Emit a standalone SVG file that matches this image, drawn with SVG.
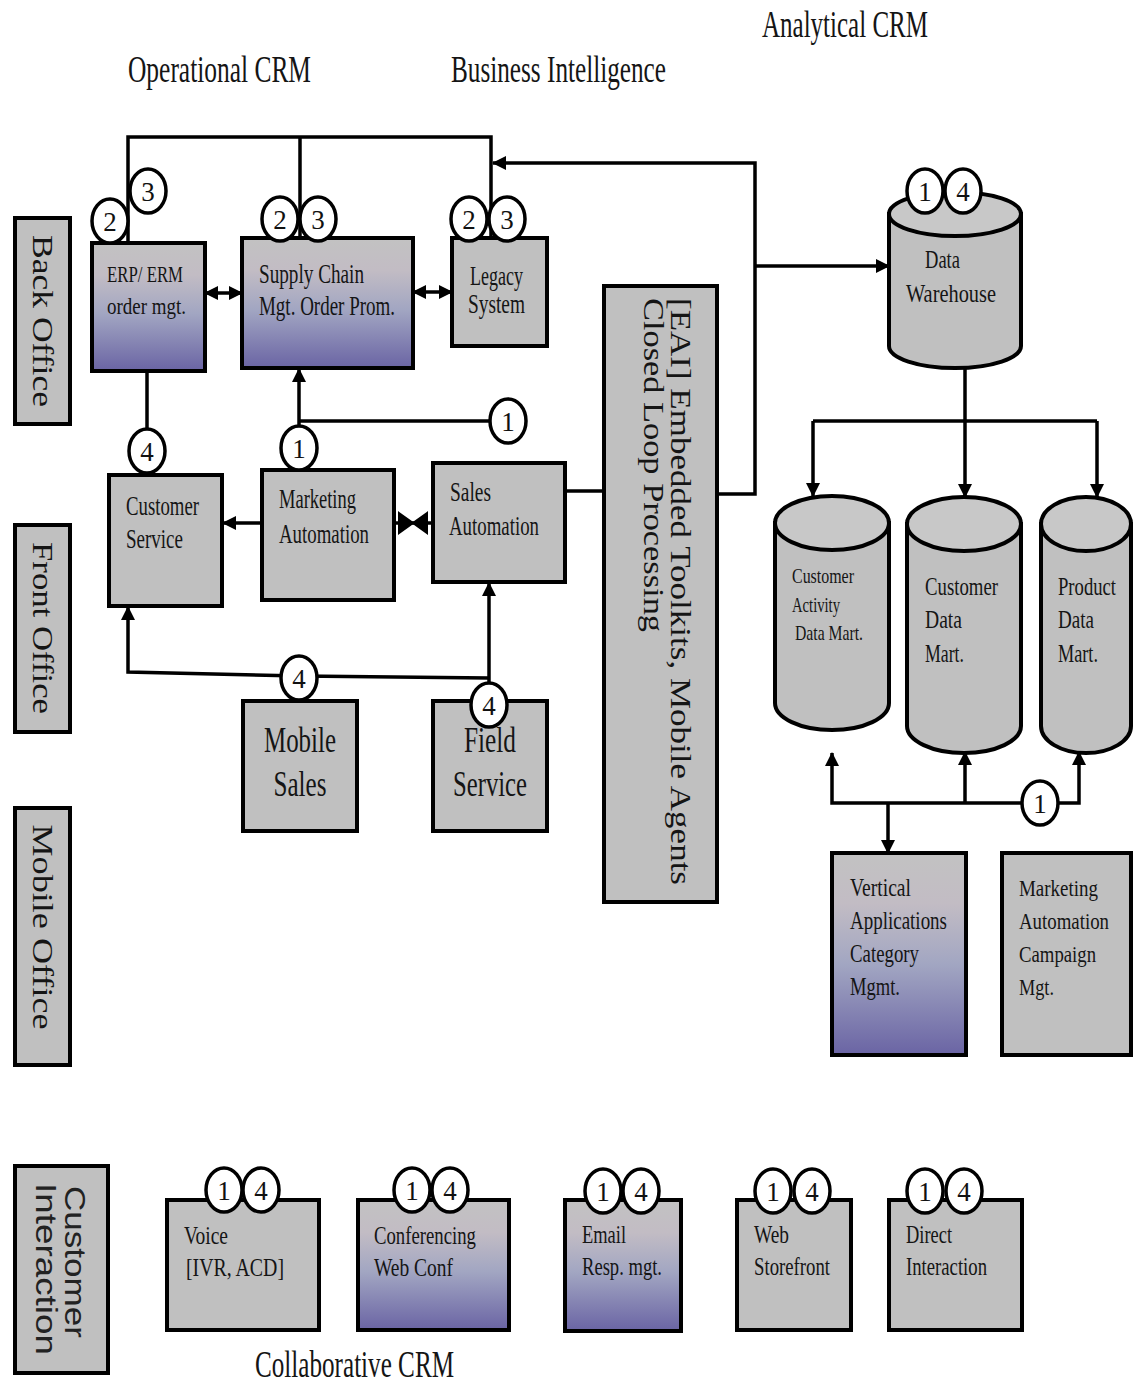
<svg xmlns="http://www.w3.org/2000/svg" width="1135" height="1383" viewBox="0 0 1135 1383">
<style>
.box{stroke:#000;stroke-width:4}
.gy{fill:#c0c0c0}
.gr{fill:url(#grad)}
.t{font-family:"Liberation Serif",serif;fill:#151515}
.s{font-family:"Liberation Sans",sans-serif;fill:#222}
.f27{font-size:27px}
.conn{stroke:#000;stroke-width:3.5;fill:none}
.bd ellipse{fill:#fff;stroke:#000;stroke-width:3.5}
.bd text{font-family:"Liberation Serif",serif;font-size:27px;text-anchor:middle;fill:#111}
.cyl{fill:#c0c0c0;stroke:#000;stroke-width:4}
.cyltop{fill:#c8c8c8;stroke:#000;stroke-width:4}
</style>
<defs>
<linearGradient id="grad" x1="0" y1="0" x2="0" y2="1">
<stop offset="0" stop-color="#c2c2c2"/>
<stop offset="0.25" stop-color="#c2bcc4"/>
<stop offset="0.55" stop-color="#a2a6c2"/>
<stop offset="1" stop-color="#6a64a4"/>
</linearGradient>
<marker id="ah" markerUnits="userSpaceOnUse" markerWidth="14" markerHeight="14" refX="13" refY="7" orient="auto-start-reverse">
<path d="M0,0 L14,7 L0,14 Z" fill="#000"/>
</marker>
</defs>
<rect width="1135" height="1383" fill="#fff"/>

<g id="titles">
<text class="t" x="762" y="37" font-size="38" textLength="166" lengthAdjust="spacingAndGlyphs">Analytical CRM</text>
<text class="t" x="128" y="82" font-size="38" textLength="183" lengthAdjust="spacingAndGlyphs">Operational CRM</text>
<text class="t" x="451" y="82" font-size="38" textLength="215" lengthAdjust="spacingAndGlyphs">Business Intelligence</text>
<text class="t" x="255" y="1377" font-size="38" textLength="199" lengthAdjust="spacingAndGlyphs">Collaborative CRM</text>
</g>

<g id="lane-back-office">
<rect class="box gy" x="15" y="218" width="55" height="206"/>
<text class="t" transform="translate(33,321) rotate(90)" font-size="29" text-anchor="middle" textLength="172" lengthAdjust="spacingAndGlyphs" fill="#333">Back Office</text>
</g>
<g id="lane-front-office">
<rect class="box gy" x="15" y="525" width="55" height="207"/>
<text class="t" transform="translate(33,628) rotate(90)" font-size="29" text-anchor="middle" textLength="172" lengthAdjust="spacingAndGlyphs">Front Office</text>
</g>
<g id="lane-mobile-office">
<rect class="box gy" x="15" y="808" width="55" height="257"/>
<text class="t" transform="translate(33,927) rotate(90)" font-size="29" text-anchor="middle" textLength="205" lengthAdjust="spacingAndGlyphs">Mobile Office</text>
</g>
<g id="lane-customer-interaction">
<rect class="box gy" x="15" y="1166" width="93" height="207"/>
<text class="s" transform="translate(65,1262) rotate(90)" font-size="29" text-anchor="middle" textLength="152" lengthAdjust="spacingAndGlyphs">Customer</text>
<text class="s" transform="translate(36,1269) rotate(90)" font-size="29" text-anchor="middle" textLength="172" lengthAdjust="spacingAndGlyphs">Interaction</text>
</g>

<g id="connectors">
<polyline class="conn" points="128,243 128,137 491,137 491,238"/>
<line class="conn" x1="300" y1="137" x2="300" y2="238"/>
<polyline class="conn" points="717,494 755,494 755,163 493,163" marker-end="url(#ah)"/>
<line class="conn" x1="755" y1="266" x2="889" y2="266" marker-end="url(#ah)"/>
<line class="conn" x1="205" y1="293" x2="242" y2="293" marker-start="url(#ah)" marker-end="url(#ah)"/>
<line class="conn" x1="413" y1="292" x2="452" y2="292" marker-start="url(#ah)" marker-end="url(#ah)"/>
<line class="conn" x1="147" y1="371" x2="147" y2="475"/>
<line class="conn" x1="299" y1="470" x2="299" y2="369" marker-end="url(#ah)"/>
<line class="conn" x1="299" y1="421" x2="492" y2="421"/>
<line class="conn" x1="262" y1="523" x2="223" y2="523" marker-end="url(#ah)"/>
<line class="conn" x1="394" y1="523" x2="433" y2="523"/>
<path d="M399,513 L413,523 L399,533 Z M427,513 L413,523 L427,533 Z" fill="#000" stroke="#000" stroke-width="2"/>
<line class="conn" x1="565" y1="491" x2="604" y2="491"/>
<line class="conn" x1="489" y1="701" x2="489" y2="583" marker-end="url(#ah)"/>
<polyline class="conn" points="489,678 300,676 128,672 128,607" marker-end="url(#ah)"/>
<line class="conn" x1="965" y1="368" x2="965" y2="497" marker-end="url(#ah)"/>
<line class="conn" x1="813" y1="421" x2="1097" y2="421"/>
<line class="conn" x1="813" y1="421" x2="813" y2="496" marker-end="url(#ah)"/>
<line class="conn" x1="1097" y1="421" x2="1097" y2="497" marker-end="url(#ah)"/>
<polyline class="conn" points="832,753 832,803 1079,803 1079,752" marker-start="url(#ah)" marker-end="url(#ah)"/>
<line class="conn" x1="965" y1="803" x2="965" y2="752" marker-end="url(#ah)"/>
<line class="conn" x1="888" y1="803" x2="888" y2="853" marker-end="url(#ah)"/>
<g class="bd"><ellipse cx="508" cy="421" rx="18" ry="22"/><text x="508" y="431">1</text></g>
<g class="bd"><ellipse cx="1040" cy="803" rx="18" ry="22"/><text x="1040" y="813">1</text></g>
</g>

<g id="erp">
<rect class="box gr" x="92" y="243" width="113" height="128"/>
<text class="t" x="107" y="282" font-size="24" textLength="76" lengthAdjust="spacingAndGlyphs">ERP/ ERM</text>
<text class="t" x="107" y="314" font-size="24" textLength="79" lengthAdjust="spacingAndGlyphs">order mgt.</text>
<g class="bd"><ellipse cx="110" cy="221" rx="18" ry="22"/><text x="110" y="231">2</text></g>
<g class="bd"><ellipse cx="148" cy="191" rx="18" ry="22"/><text x="148" y="201">3</text></g>
</g>

<g id="supply-chain">
<rect class="box gr" x="242" y="238" width="171" height="130"/>
<text class="t f27" x="259" y="283" textLength="105" lengthAdjust="spacingAndGlyphs">Supply Chain</text>
<text class="t f27" x="259" y="315" textLength="136" lengthAdjust="spacingAndGlyphs">Mgt. Order Prom.</text>
<g class="bd"><ellipse cx="280" cy="219" rx="18" ry="22"/><text x="280" y="229">2</text></g>
<g class="bd"><ellipse cx="318" cy="219" rx="18" ry="22"/><text x="318" y="229">3</text></g>
</g>

<g id="legacy">
<rect class="box gy" x="452" y="238" width="95" height="108"/>
<text class="t f27" x="470" y="285" textLength="53" lengthAdjust="spacingAndGlyphs">Legacy</text>
<text class="t f27" x="468" y="313" textLength="57" lengthAdjust="spacingAndGlyphs">System</text>
<g class="bd"><ellipse cx="469" cy="219" rx="18" ry="22"/><text x="469" y="229">2</text></g>
<g class="bd"><ellipse cx="507" cy="219" rx="18" ry="22"/><text x="507" y="229">3</text></g>
</g>

<g id="customer-service">
<rect class="box gy" x="109" y="475" width="113" height="131"/>
<text class="t f27" x="126" y="515" textLength="73" lengthAdjust="spacingAndGlyphs">Customer</text>
<text class="t f27" x="126" y="548" textLength="57" lengthAdjust="spacingAndGlyphs">Service</text>
<g class="bd"><ellipse cx="147" cy="451" rx="18" ry="22"/><text x="147" y="461">4</text></g>
</g>

<g id="marketing-automation">
<rect class="box gy" x="262" y="470" width="132" height="130"/>
<text class="t f27" x="279" y="508" textLength="77" lengthAdjust="spacingAndGlyphs">Marketing</text>
<text class="t f27" x="279" y="543" textLength="90" lengthAdjust="spacingAndGlyphs">Automation</text>
<g class="bd"><ellipse cx="299" cy="448" rx="18" ry="22"/><text x="299" y="458">1</text></g>
</g>

<g id="sales-automation">
<rect class="box gy" x="433" y="463" width="132" height="119"/>
<text class="t f27" x="450" y="501" textLength="41" lengthAdjust="spacingAndGlyphs">Sales</text>
<text class="t f27" x="449" y="535" textLength="90" lengthAdjust="spacingAndGlyphs">Automation</text>
</g>

<g id="mobile-sales">
<rect class="box gy" x="243" y="701" width="114" height="130"/>
<text class="t" x="300" y="752" font-size="35" text-anchor="middle" textLength="72" lengthAdjust="spacingAndGlyphs" fill="#333">Mobile</text>
<text class="t" x="300" y="796" font-size="35" text-anchor="middle" textLength="53" lengthAdjust="spacingAndGlyphs" fill="#333">Sales</text>
<g class="bd"><ellipse cx="299" cy="678" rx="18" ry="22"/><text x="299" y="688">4</text></g>
</g>

<g id="field-service">
<rect class="box gy" x="433" y="701" width="114" height="130"/>
<text class="t" x="490" y="752" font-size="35" text-anchor="middle" textLength="52" lengthAdjust="spacingAndGlyphs" fill="#333">Field</text>
<text class="t" x="490" y="796" font-size="35" text-anchor="middle" textLength="74" lengthAdjust="spacingAndGlyphs" fill="#333">Service</text>
<g class="bd"><ellipse cx="489" cy="705" rx="18" ry="22"/><text x="489" y="715">4</text></g>
</g>

<g id="eai">
<rect class="box gy" x="604" y="286" width="113" height="616"/>
<text class="t" transform="translate(671,298) rotate(90)" font-size="30" textLength="587" lengthAdjust="spacingAndGlyphs" fill="#222">[EAI] Embedded Toolkits, Mobile Agents</text>
<text class="t" transform="translate(644,298) rotate(90)" font-size="30" textLength="334" lengthAdjust="spacingAndGlyphs" fill="#222">Closed Loop Processing</text>
</g>

<g id="data-warehouse">
<path class="cyl" d="M889,214 V346 A66,22 0 0 0 1021,346 V214 Z"/>
<ellipse class="cyltop" cx="955" cy="214" rx="66" ry="22"/>
<text class="t" x="925" y="268" font-size="25" textLength="35" lengthAdjust="spacingAndGlyphs">Data</text>
<text class="t" x="906" y="302" font-size="25" textLength="90" lengthAdjust="spacingAndGlyphs">Warehouse</text>
<g class="bd"><ellipse cx="925" cy="191" rx="18" ry="22"/><text x="925" y="201">1</text></g>
<g class="bd"><ellipse cx="963" cy="191" rx="18" ry="22"/><text x="963" y="201">4</text></g>
</g>

<g id="customer-activity-dm">
<path class="cyl" d="M775,523 V703 A57,27 0 0 0 889,703 V523 Z"/>
<ellipse class="cyltop" cx="832" cy="523" rx="57" ry="27"/>
<text class="t" x="792" y="583" font-size="22" textLength="62" lengthAdjust="spacingAndGlyphs">Customer</text>
<text class="t" x="792" y="612" font-size="22" textLength="48" lengthAdjust="spacingAndGlyphs">Activity</text>
<text class="t" x="795" y="640" font-size="22" textLength="68" lengthAdjust="spacingAndGlyphs">Data Mart.</text>
</g>

<g id="customer-dm">
<path class="cyl" d="M907,524 V726 A57,27 0 0 0 1021,726 V524 Z"/>
<ellipse class="cyltop" cx="964" cy="524" rx="57" ry="27"/>
<text class="t" x="925" y="595" font-size="25" textLength="73" lengthAdjust="spacingAndGlyphs">Customer</text>
<text class="t" x="925" y="628" font-size="25" textLength="37" lengthAdjust="spacingAndGlyphs">Data</text>
<text class="t" x="925" y="662" font-size="25" textLength="39" lengthAdjust="spacingAndGlyphs">Mart.</text>
</g>

<g id="product-dm">
<path class="cyl" d="M1041,524 V726 A45,27 0 0 0 1131,726 V524 Z"/>
<ellipse class="cyltop" cx="1086" cy="524" rx="45" ry="27"/>
<text class="t" x="1058" y="595" font-size="25" textLength="58" lengthAdjust="spacingAndGlyphs">Product</text>
<text class="t" x="1058" y="628" font-size="25" textLength="36" lengthAdjust="spacingAndGlyphs">Data</text>
<text class="t" x="1058" y="662" font-size="25" textLength="40" lengthAdjust="spacingAndGlyphs">Mart.</text>
</g>

<g id="vertical-applications">
<rect class="box gr" x="832" y="853" width="134" height="202"/>
<text class="t" x="850" y="896" font-size="26" textLength="61" lengthAdjust="spacingAndGlyphs">Vertical</text>
<text class="t" x="850" y="929" font-size="26" textLength="97" lengthAdjust="spacingAndGlyphs">Applications</text>
<text class="t" x="850" y="962" font-size="26" textLength="69" lengthAdjust="spacingAndGlyphs">Category</text>
<text class="t" x="850" y="995" font-size="26" textLength="50" lengthAdjust="spacingAndGlyphs">Mgmt.</text>
</g>

<g id="marketing-campaign">
<rect class="box gy" x="1002" y="853" width="129" height="202"/>
<text class="t" x="1019" y="896" font-size="24" textLength="79" lengthAdjust="spacingAndGlyphs">Marketing</text>
<text class="t" x="1019" y="929" font-size="24" textLength="90" lengthAdjust="spacingAndGlyphs">Automation</text>
<text class="t" x="1019" y="962" font-size="24" textLength="77" lengthAdjust="spacingAndGlyphs">Campaign</text>
<text class="t" x="1019" y="995" font-size="24" textLength="35" lengthAdjust="spacingAndGlyphs">Mgt.</text>
</g>

<g id="voice">
<rect class="box gy" x="167" y="1200" width="152" height="130"/>
<text class="t" x="184" y="1244" font-size="26" textLength="44" lengthAdjust="spacingAndGlyphs">Voice</text>
<text class="t" x="186" y="1276" font-size="26" textLength="98" lengthAdjust="spacingAndGlyphs">[IVR, ACD]</text>
<g class="bd"><ellipse cx="224" cy="1190" rx="18" ry="22"/><text x="224" y="1200">1</text></g>
<g class="bd"><ellipse cx="261" cy="1190" rx="18" ry="22"/><text x="261" y="1200">4</text></g>
</g>

<g id="conferencing">
<rect class="box gr" x="358" y="1200" width="151" height="130"/>
<text class="t" x="374" y="1244" font-size="26" textLength="102" lengthAdjust="spacingAndGlyphs">Conferencing</text>
<text class="t" x="374" y="1276" font-size="26" textLength="79" lengthAdjust="spacingAndGlyphs">Web Conf</text>
<g class="bd"><ellipse cx="412" cy="1190" rx="18" ry="22"/><text x="412" y="1200">1</text></g>
<g class="bd"><ellipse cx="450" cy="1190" rx="18" ry="22"/><text x="450" y="1200">4</text></g>
</g>

<g id="email">
<rect class="box gr" x="565" y="1200" width="116" height="131"/>
<text class="t" x="582" y="1243" font-size="26" textLength="44" lengthAdjust="spacingAndGlyphs">Email</text>
<text class="t" x="582" y="1275" font-size="26" textLength="80" lengthAdjust="spacingAndGlyphs">Resp. mgt.</text>
<g class="bd"><ellipse cx="603" cy="1191" rx="18" ry="22"/><text x="603" y="1201">1</text></g>
<g class="bd"><ellipse cx="641" cy="1191" rx="18" ry="22"/><text x="641" y="1201">4</text></g>
</g>

<g id="web-storefront">
<rect class="box gy" x="737" y="1200" width="114" height="130"/>
<text class="t" x="754" y="1243" font-size="26" textLength="35" lengthAdjust="spacingAndGlyphs">Web</text>
<text class="t" x="754" y="1275" font-size="26" textLength="76" lengthAdjust="spacingAndGlyphs">Storefront</text>
<g class="bd"><ellipse cx="773" cy="1191" rx="18" ry="22"/><text x="773" y="1201">1</text></g>
<g class="bd"><ellipse cx="812" cy="1191" rx="18" ry="22"/><text x="812" y="1201">4</text></g>
</g>

<g id="direct-interaction">
<rect class="box gy" x="889" y="1200" width="133" height="130"/>
<text class="t" x="906" y="1243" font-size="26" textLength="46" lengthAdjust="spacingAndGlyphs">Direct</text>
<text class="t" x="906" y="1275" font-size="26" textLength="81" lengthAdjust="spacingAndGlyphs">Interaction</text>
<g class="bd"><ellipse cx="925" cy="1191" rx="18" ry="22"/><text x="925" y="1201">1</text></g>
<g class="bd"><ellipse cx="964" cy="1191" rx="18" ry="22"/><text x="964" y="1201">4</text></g>
</g>
</svg>
